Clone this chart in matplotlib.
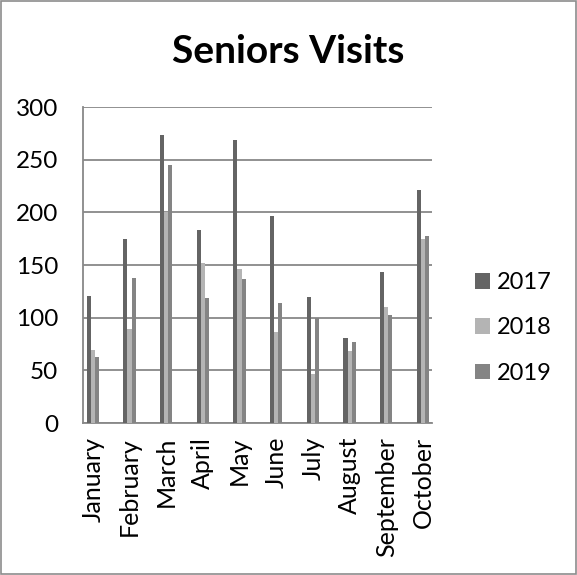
import matplotlib.pyplot as plt
import numpy as np
from matplotlib.patches import Rectangle, Patch

plt.rcParams['font.family'] = ['Lato', 'DejaVu Sans']

months = ['January', 'February', 'March', 'April', 'May', 'June',
          'July', 'August', 'September', 'October']
visits_2017 = [121, 175, 273, 183, 269, 197, 120, 81, 143, 221]
visits_2018 = [69, 89, 200, 152, 146, 86, 47, 68, 110, 175]
visits_2019 = [63, 138, 245, 119, 137, 114, 100, 77, 103, 178]
years = ['2017', '2018', '2019']
colors = ['#646464', '#b4b4b4', '#848484']

fig = plt.figure(figsize=(5.77, 5.75), dpi=100)
ax = fig.add_axes([0.1438, 0.2643, 0.6049, 0.5496])

# outer chart border
fig.patches.append(Rectangle((0.002, 0.002), 0.996, 0.996, transform=fig.transFigure,
                             fill=False, edgecolor='#8c8c8c', linewidth=1.2))

x = np.arange(len(months))
w = 0.112
for k, (vals, col) in enumerate(zip([visits_2017, visits_2018, visits_2019], colors)):
    ax.bar(x + (k - 1) * w, vals, width=w, color=col, zorder=3)

ax.set_xlim(-0.267, 9.245)
ax.set_ylim(0, 300)
ax.set_yticks(range(0, 301, 50))
ax.yaxis.grid(True, color='#888888', linewidth=1.3, zorder=0)

ax.set_xticks(x)
ax.set_xticklabels(months, rotation=90, fontsize=18)
ax.tick_params(axis='x', length=0, pad=10)
ax.tick_params(axis='y', length=0, pad=18, labelsize=17.5)

for s in ['top', 'right']:
    ax.spines[s].set_visible(False)
ax.spines['left'].set_color('#888888')
ax.spines['bottom'].set_color('#888888')
ax.spines['left'].set_linewidth(1.3)
ax.spines['bottom'].set_linewidth(1.3)

fig.text(0.5, 0.890, 'Seniors Visits', ha='center', va='baseline',
         fontsize=28, fontweight='bold')

handles = [Patch(facecolor=c) for c in colors]
fig.legend(handles, years, loc='center left', bbox_to_anchor=(0.823, 0.4296),
           frameon=False, fontsize=17, handlelength=0.64, handleheight=0.64,
           labelspacing=1.03, handletextpad=0.3, borderpad=0, borderaxespad=0)

plt.savefig('out.png', dpi=100)
plt.close()
